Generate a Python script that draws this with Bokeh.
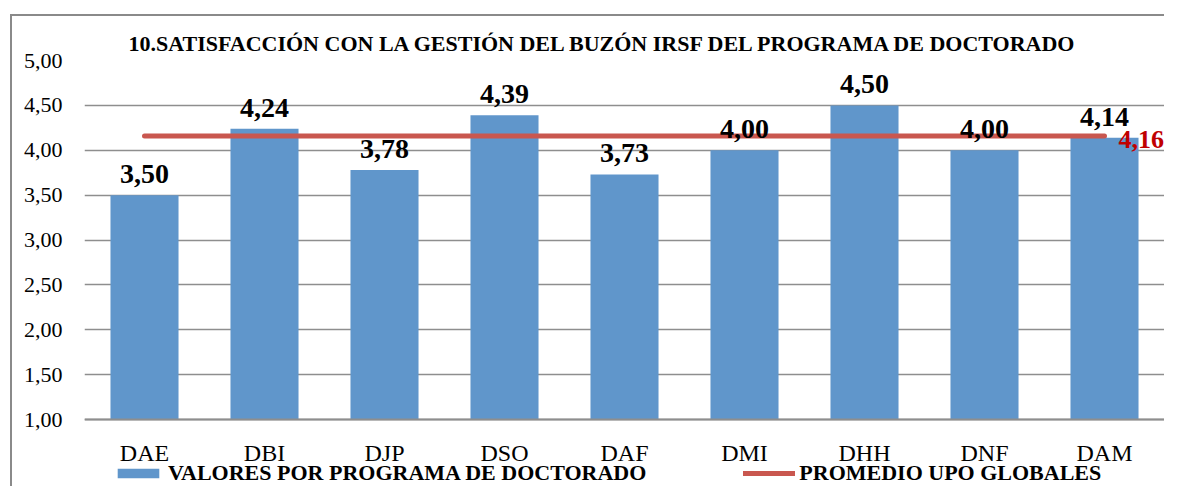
from bokeh.plotting import figure
from bokeh.models import (Range1d, FactorRange, FixedTicker, Legend, LegendItem,
                          Label, ColumnDataSource)
from bokeh.core.properties import value
from bokeh.embed import file_html
from bokeh.resources import INLINE

# ---- data ----
categories = ["DAE", "DBI", "DJP", "DSO", "DAF", "DMI", "DHH", "DNF", "DAM"]
values = [3.50, 4.24, 3.78, 4.39, 3.73, 4.00, 4.50, 4.00, 4.14]
promedio = 4.16
y_ticks = [1.0, 1.5, 2.0, 2.5, 3.0, 3.5, 4.0, 4.5, 5.0]
title_text = "10.SATISFACCIÓN CON LA GESTIÓN DEL BUZÓN IRSF DEL PROGRAMA DE DOCTORADO"
series_name = "VALORES POR PROGRAMA DE DOCTORADO"
avg_name = "PROMEDIO UPO GLOBALES"

def fmt(v):
    return f"{v:.2f}".replace(".", ",")

FONT = "Liberation Serif"
BAR = "#6096CB"
RED = "#C9574F"
GRID = "#8E8E8E"

W, H = 1164, 486
TOP, LEFT = 60, 84
Y1_PX = 419                      # pixel row of value 1.0
PX_PER_UNIT = (Y1_PX - TOP) / (5 - 1)
y_start = 1 - (H - Y1_PX) / PX_PER_UNIT

p = figure(width=W, height=H, output_backend="svg", toolbar_location=None,
           x_range=FactorRange(*categories, range_padding=0),
           y_range=Range1d(y_start, 5),
           min_border_left=LEFT, min_border_right=0, min_border_top=TOP, min_border_bottom=0)
p.outline_line_color = None
p.background_fill_color = "white"
p.border_fill_color = None
p.styles = {
    "background-color": "white",
    "background-image": "linear-gradient(#8A8A8A, #8A8A8A), linear-gradient(#8A8A8A, #8A8A8A)",
    "background-size": "2px 100%, 100% 2px",
    "background-position": "10px 14px, 10px 14px",
    "background-repeat": "no-repeat",
}

src = ColumnDataSource(dict(x=categories, top=values, lbl=[fmt(v) for v in values],
                            avg=[promedio] * len(categories)))

bars = p.vbar(x="x", top="top", bottom=1, width=0.567, source=src,
              fill_color=BAR, line_color=None)
avg_line = p.line(x="x", y="avg", source=src, line_color=RED, line_width=5,
                  line_cap="round")

p.text(x="x", y="top", text="lbl", source=src, text_align="center",
       text_baseline="bottom", y_offset=-12, text_font=value(FONT),
       text_font_style="bold", text_font_size="28px", text_color="black")

# average label
p.add_layout(Label(x=categories.index("DAM") + 0.5, y=promedio, text=fmt(promedio),
                   x_offset=14, y_offset=-4, text_align="left", text_baseline="middle",
                   text_font=FONT, text_font_style="bold", text_font_size="26px",
                   text_color="#C00000"))

# title
p.title.text = title_text
p.title.align = "left"
p.title.offset = 44
p.title.standoff = 10
p.title.text_font = FONT
p.title.text_font_style = "bold"
p.title.text_font_size = "22px"
p.title.text_color = "black"

# axes
p.yaxis.ticker = FixedTicker(ticks=y_ticks)
p.yaxis.major_label_overrides = {t: fmt(t) for t in y_ticks}
p.yaxis.axis_line_color = None
p.yaxis.major_tick_line_color = None
p.yaxis.minor_tick_line_color = None
p.yaxis.major_tick_out = 0
p.yaxis.major_tick_in = 0
p.yaxis.major_label_standoff = 22
p.yaxis.major_label_text_font = FONT
p.yaxis.major_label_text_font_size = "22px"
p.yaxis.major_label_text_color = "black"

p.xaxis.fixed_location = 1
p.xaxis.axis_line_color = GRID
p.xaxis.axis_line_width = 2
p.xaxis.major_tick_line_color = None
p.xaxis.minor_tick_line_color = None
p.xaxis.major_tick_out = 0
p.xaxis.major_tick_in = 0
p.xaxis.major_label_standoff = 20
p.xaxis.major_label_text_font = FONT
p.xaxis.major_label_text_font_size = "24px"
p.xaxis.major_label_text_color = "black"

p.xgrid.grid_line_color = None
p.ygrid.grid_line_color = GRID
p.ygrid.grid_line_width = 1.5

# legend
legend = Legend(items=[LegendItem(label=series_name, renderers=[bars]),
                       LegendItem(label=avg_name, renderers=[avg_line])],
                orientation="horizontal", location=(28, 0),
                glyph_width=52, glyph_height=12, label_standoff=4, spacing=97,
                padding=0, margin=0, border_line_color=None,
                background_fill_alpha=0, label_text_font=FONT,
                label_text_font_style="bold", label_text_font_size="22px",
                label_text_color="black")
p.add_layout(legend, "center")

open("out.html", "w").write(file_html(p, INLINE))
